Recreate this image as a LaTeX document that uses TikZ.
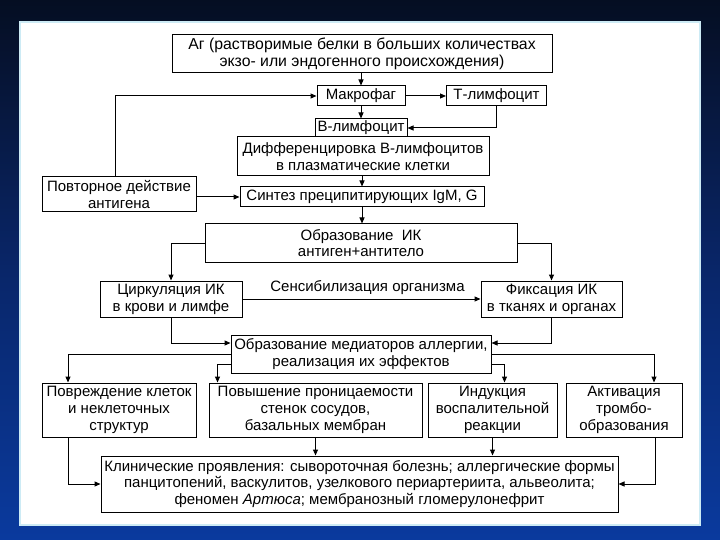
\documentclass[tikz,border=0pt]{standalone}
\usepackage{fontspec}
\setmainfont{Liberation Sans}
\usetikzlibrary{arrows.meta}
\definecolor{bgtop}{RGB}{5,14,34}
\definecolor{bgmid}{RGB}{9,38,105}
\definecolor{bgbot}{RGB}{10,58,158}
\definecolor{paneledge}{RGB}{205,235,245}
\tikzset{
  box/.style={draw=black, line width=1pt, fill=white, inner sep=0pt, align=center,
    font=\fontsize{15}{16.8}\selectfont},
  arr/.style={line width=1pt, -{Triangle[length=6pt,width=5pt]}},
  lbl/.style={inner sep=0pt, font=\fontsize{15}{16.8}\selectfont}
}
\begin{document}
\begin{tikzpicture}[x=1pt,y=-1pt]
\useasboundingbox (0,0) rectangle (720,540);
\shade[top color=bgtop, bottom color=bgbot, middle color=bgmid] (0,0) rectangle (720,540);
\fill[white, draw=paneledge, line width=1.5pt] (20,22) rectangle (700,525);

\node[box, minimum width=380, minimum height=38, font=\fontsize{15.8}{16.8}\selectfont] (ag) at (362,54) {Аг (растворимые белки в больших количествах\\экзо- или эндогенного происхождения)};
\node[box, minimum width=88, minimum height=20] (mak) at (361,96) {Макрофаг};
\node[box, minimum width=100, minimum height=20] (tl) at (496.5,96) {Т-лимфоцит};
\node[box, minimum width=92, minimum height=18] (bl) at (361,128) {В-лимфоцит};
\node[box, minimum width=252, minimum height=39] (dif) at (363,156.5) {Дифференцировка В-лимфоцитов\\в плазматические клетки};
\node[box, minimum width=154, minimum height=35] (pov) at (119,194.5) {Повторное действие\\антигена};
\node[box, minimum width=244, minimum height=20] (sin) at (362,197) {Синтез преципитирующих IgM, G};
\node[box, minimum width=312, minimum height=38] (ik) at (361,243) {Образование\ \ ИК\\антиген+антитело};
\node[box, minimum width=142, minimum height=36] (cir) at (171,299) {Циркуляция ИК\\в крови и лимфе};
\node[box, minimum width=141, minimum height=36] (fix) at (551.5,299) {Фиксация ИК\\в тканях и органах};
\node[box, minimum width=260, minimum height=38] (med) at (361,354) {Образование медиаторов аллергии,\\реализация их эффектов};
\node[box, minimum width=154, minimum height=54] (dam) at (119,410) {Повреждение клеток\\и неклеточных\\структур};
\node[box, minimum width=213, minimum height=54] (perm) at (315.5,410) {Повышение проницаемости\\стенок сосудов,\\базальных мембран};
\node[box, minimum width=129, minimum height=54] (ind) at (492.5,410) {Индукция\\воспалительной\\реакции};
\node[box, minimum width=116, minimum height=54] (act) at (624,410) {Активация\\тромбо-\\образования};
\node[box, minimum width=517, minimum height=56] (cli) at (359.5,484) {Клинические проявления: сывороточная болезнь; аллергические формы\\панцитопений, васкулитов, узелкового периартериита, альвеолита;\\феномен \textit{Артюса}; мембранозный гломерулонефрит};

\draw[arr] (ag.south -| mak.north) -- (mak.north);
\draw[arr] (mak.east) -- (tl.west);
\draw[arr] (mak.south) -- (bl.north);
\draw[arr] (tl.south) |- (bl.east);
\draw[arr] ([xshift=-4pt]pov.north) |- (mak.west);
\draw[arr] (dif.south -| sin.north) -- (sin.north);
\draw[arr] (pov.east |- sin.west) -- (sin.west);
\draw[arr] (sin.south) -- (sin.south |- ik.north);
\draw[arr] (ik.west) -| (cir.north);
\draw[arr] (ik.east) -| (fix.north);
\draw[arr] (cir.east) -- node[lbl, above=4pt, xshift=6pt] (sens) {Сенсибилизация организма} (fix.west);
\draw[arr] (cir.south) |- ([yshift=11pt]med.west);
\draw[arr] (fix.south) |- ([yshift=11pt]med.east);
\draw[arr] (med.west) -| ([xshift=-51pt]dam.north);
\draw[arr] ([yshift=-10pt]med.west) -| ([xshift=-98pt]perm.north);
\draw[arr] ([yshift=-10pt]med.east) -| ([xshift=12pt]ind.north);
\draw[arr] (med.east) -| ([xshift=30pt]act.north);
\draw[arr] ([xshift=-51pt]dam.south) |- (cli.west);
\draw[arr] (perm.south) -- (perm.south |- cli.north);
\draw[arr] (ind.south) -- (ind.south |- cli.north);
\draw[arr] ([xshift=31pt]act.south) |- (cli.east);
\end{tikzpicture}
\end{document}
